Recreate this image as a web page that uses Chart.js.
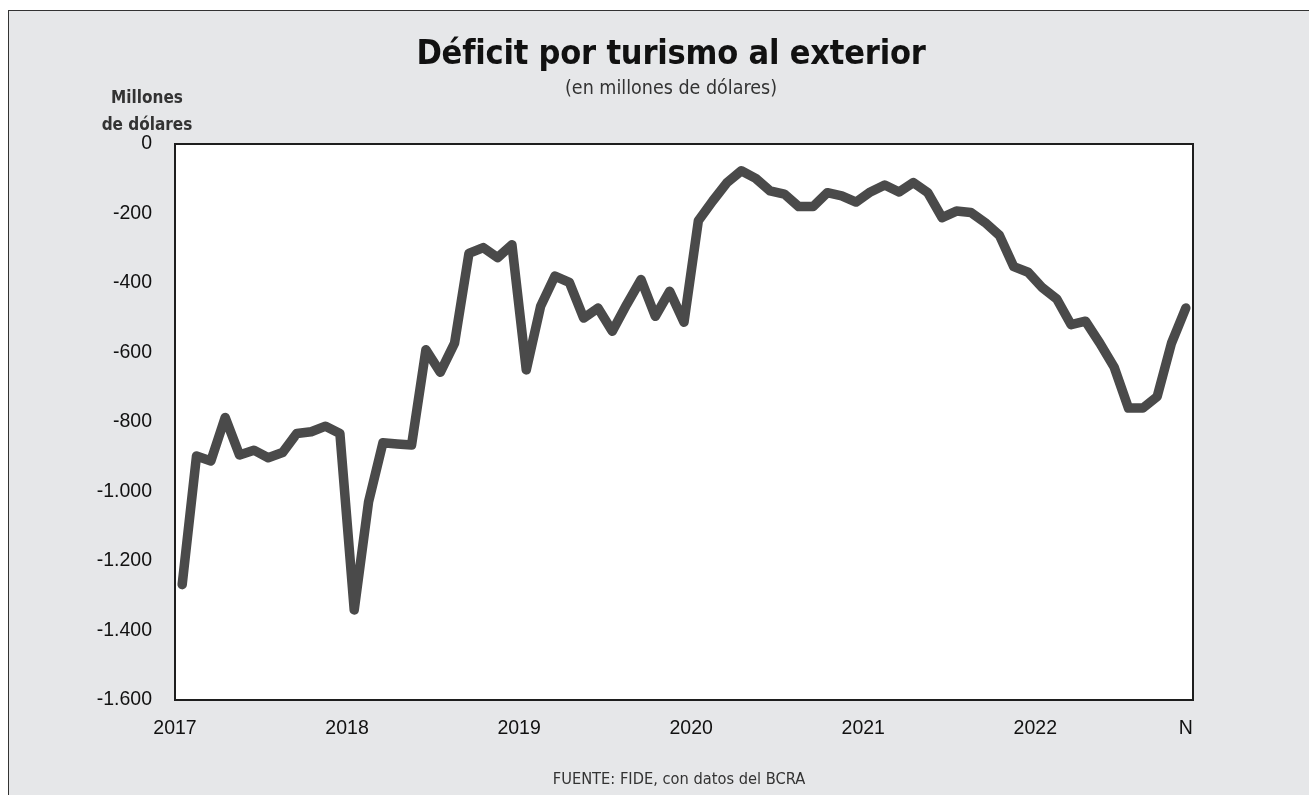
<!DOCTYPE html>
<html>
<head>
<meta charset="utf-8">
<title>Déficit por turismo al exterior</title>
<script src="https://cdn.jsdelivr.net/npm/chart.js@4.4.1/dist/chart.umd.min.js"></script>
<style>
  html, body { margin:0; padding:0; background:#fff; }
  body { width:1309px; height:795px; position:relative; overflow:hidden; font-family:"Liberation Sans", Arial, sans-serif; }
  #panel { position:absolute; left:8px; top:10px; right:0; bottom:0; background:#e6e7e9; border-left:1px solid #333; border-top:1px solid #333; }
  #chart { position:absolute; left:0; top:0; }
  .txt { position:absolute; white-space:nowrap; color:#1a1a1a; text-align:center; }
  #title { left:0; width:1342px; top:32px; font-family:"DejaVu Sans Condensed", "DejaVu Sans", sans-serif; font-weight:bold; font-size:34px; letter-spacing:-0.2px; color:#111; }
  #subtitle { left:0; width:1342px; top:76px; font-family:"Liberation Sans Narrow", "DejaVu Sans Condensed", sans-serif; font-size:19.5px; color:#333; }
  #ytitle { left:87px; width:120px; top:84px; font-family:"Liberation Sans Narrow", "DejaVu Sans Condensed", sans-serif; font-weight:bold; font-size:17px; line-height:27px; color:#333; }
  #source { left:0; width:1358px; top:769px; font-family:"Liberation Sans Narrow", "DejaVu Sans Condensed", sans-serif; font-size:16.3px; color:#333; }
</style>
</head>
<body>
<div id="panel"></div>
<canvas id="chart" width="1309" height="795"></canvas>
<div class="txt" id="title">Déficit por turismo al exterior</div>
<div class="txt" id="subtitle">(en millones de dólares)</div>
<div class="txt" id="ytitle">Millones<br>de dólares</div>
<div class="txt" id="source">FUENTE: FIDE, con datos del BCRA</div>
<script>
(function(){
  // monthly deficit, Jan 2017 .. Nov 2022 (millions USD)
  const months2017 = [-1268, -898, -912, -787, -895, -881, -903, -888, -833, -828, -812, -833];
  const months2018 = [-1341, -1030, -860, -863, -866, -592, -657, -573, -315, -298, -327, -290];
  const months2019 = [-650, -467, -380, -398, -501, -472, -539, -462, -390, -496, -424, -513];
  const months2020 = [-221, -164, -111, -77, -99, -135, -144, -180, -180, -140, -149, -167];
  const months2021 = [-138, -118, -138, -111, -140, -212, -193, -197, -226, -263, -353, -369];
  const months2022 = [-414, -446, -520, -510, -573, -642, -760, -760, -727, -573, -472];

  const xTickLabels = ['2017', '2018', '2019', '2020', '2021', '2022', 'N'];
  const xTickPos = [-0.5, 11.5, 23.5, 35.5, 47.5, 59.5, 70];

  const values = [].concat(months2017, months2018, months2019, months2020, months2021, months2022);
  const points = values.map((v, i) => ({ x: i, y: v }));

  // thousands with dot, like -1.600
  function fmt(v){ return String(v).replace(/\B(?=(\d{3})+(?!\d))/g, '.'); }

  // white plot box with dark frame
  const plotBox = {
    id: 'plotBox',
    beforeDatasetsDraw(chart){
      const a = chart.chartArea, ctx = chart.ctx;
      ctx.save();
      ctx.fillStyle = '#ffffff';
      ctx.fillRect(a.left, a.top, a.right - a.left, a.bottom - a.top);
      ctx.strokeStyle = '#1e1e1e';
      ctx.lineWidth = 2;
      ctx.strokeRect(a.left, a.top, a.right - a.left, a.bottom - a.top);
      ctx.restore();
    }
  };

  new Chart(document.getElementById('chart'), {
    type: 'line',
    data: {
      datasets: [{
        data: points,
        borderColor: '#4a4a4a',
        borderWidth: 9.5,
        borderCapStyle: 'round',
        borderJoinStyle: 'round',
        pointRadius: 0,
        tension: 0,
        fill: false
      }]
    },
    options: {
      responsive: false,
      animation: false,
      layout: { padding: { left: 0, top: 144, right: 116, bottom: 0 } },
      plugins: { legend: { display: false }, tooltip: { enabled: false } },
      scales: {
        x: {
          type: 'linear',
          min: -0.5,
          max: 70.5,
          grid: { display: false, drawTicks: false },
          border: { display: false },
          afterBuildTicks(scale){ scale.ticks = xTickPos.map(v => ({ value: v })); },
          afterFit(scale){ scale.height = 95; },
          ticks: {
            autoSkip: false,
            maxRotation: 0,
            padding: 17,
            color: '#111',
            font: { family: '"Liberation Sans", Arial, sans-serif', size: 19.5 },
            callback: (v, i) => xTickLabels[i]
          }
        },
        y: {
          min: -1600,
          max: 0,
          grid: { display: false, drawTicks: false },
          border: { display: false },
          afterFit(scale){ scale.width = 175; },
          ticks: {
            stepSize: 200,
            padding: 23,
            color: '#111',
            font: { family: '"Liberation Sans", Arial, sans-serif', size: 19.5 },
            callback: v => fmt(v)
          }
        }
      }
    },
    plugins: [plotBox]
  });
})();
</script>
</body>
</html>
